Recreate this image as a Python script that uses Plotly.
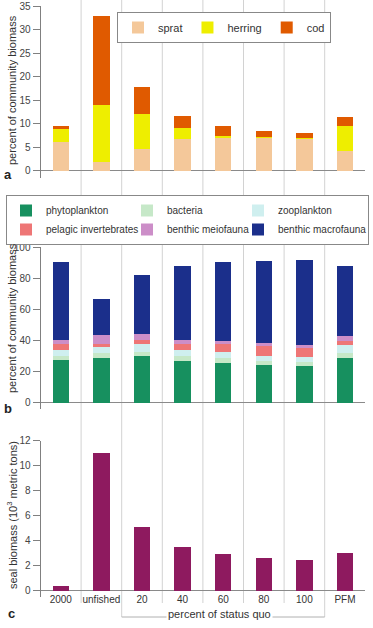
import plotly.graph_objects as go

W, H = 373, 628
categories = ["2000", "unfished", "20", "40", "60", "80", "100", "PFM"]

# Panel a: fish (% of community biomass), stacked segments
sprat   = [6.2, 2.0, 4.7, 6.8, 7.0, 7.1, 6.9, 4.3]
herring = [2.8, 12.0, 7.4, 2.4, 0.5, 0.1, 0.05, 5.3]
cod     = [0.5, 18.8, 5.8, 2.5, 2.0, 1.2, 1.0, 1.9]

# Panel b: other groups (% of community biomass)
phytoplankton = [27.5, 29.0, 30.1, 26.8, 25.8, 24.2, 23.5, 29.0]
bacteria      = [2.6, 3.3, 2.4, 3.3, 3.0, 2.5, 2.8, 3.3]
zooplankton   = [4.1, 3.6, 5.1, 4.1, 4.1, 3.6, 3.4, 4.9]
pelagic_inv   = [3.4, 1.7, 2.8, 3.4, 5.1, 6.2, 5.8, 2.3]
meiofauna     = [2.6, 5.8, 3.6, 2.8, 1.7, 1.7, 1.7, 3.4]
macrofauna    = [50.0, 23.5, 37.8, 47.4, 50.7, 52.8, 54.5, 44.9]

# Panel c: seal biomass (10^3 metric tons)
seal = [0.35, 11.05, 5.12, 3.48, 2.9, 2.64, 2.43, 3.04]

FONT = "Liberation Sans, Arial, sans-serif"
TXT = "#333333"
AX = "#808080"

def py(p):
    return 1 - p / H

def px(p):
    return p / W

fig = go.Figure()

for name, vals, col in [("sprat", sprat, "#F4C89A"),
                        ("herring", herring, "#EEEE00"),
                        ("cod", cod, "#E05A00")]:
    fig.add_trace(go.Bar(x=categories, y=vals, name=name, marker_color=col,
                         marker_line_width=0, width=0.4,
                         xaxis="x", yaxis="y", legend="legend"))

# legend columns (groups) and their widths
grp_w = {"g1": 76, "g2": 66, "g3": 85}
for name, vals, col, grp in [("phytoplankton", phytoplankton, "#17905F", "g1"),
                             ("bacteria", bacteria, "#C6E8C8", "g2"),
                             ("zooplankton", zooplankton, "#CFEFEF", "g3"),
                             ("pelagic invertebrates", pelagic_inv, "#EE7676", "g1"),
                             ("benthic meiofauna", meiofauna, "#CC8EC8", "g2"),
                             ("benthic macrofauna", macrofauna, "#1B2F8B", "g3")]:
    fig.add_trace(go.Bar(x=categories, y=vals, name=name, marker_color=col,
                         marker_line_width=0, width=0.4, legendgroup=grp,
                         legendwidth=grp_w[grp],
                         xaxis="x2", yaxis="y2", legend="legend2"))

fig.add_trace(go.Bar(x=categories, y=seal, name="seal", marker_color="#8E1A5F",
                     marker_line_width=0, width=0.4, showlegend=False,
                     xaxis="x3", yaxis="y3"))

xdom = [px(40.5), px(365.3)]
xcommon = dict(domain=xdom, range=[-0.5, 7.5], type="category",
               categoryorder="array", categoryarray=categories, automargin=False,
               showgrid=False, zeroline=False, showline=False, ticks="")
ycommon = dict(showgrid=False, showline=True, linecolor=AX, linewidth=1,
               ticks="outside", ticklen=7, tickcolor=AX, automargin=False,
               tickfont=dict(size=10, color="#444", family=FONT),
               zeroline=True, zerolinecolor="#8a8a8a", zerolinewidth=1)

fig.update_layout(
    width=W, height=H, margin=dict(l=0, r=0, t=0, b=0, autoexpand=False),
    paper_bgcolor="white", plot_bgcolor="rgba(0,0,0,0)",
    barmode="stack",
    font=dict(family=FONT, color=TXT, size=11),
    xaxis=dict(xcommon, anchor="y", showticklabels=False),
    xaxis2=dict(xcommon, anchor="y2", showticklabels=False),
    xaxis3=dict(xcommon, anchor="y3", showticklabels=True, ticklabelstandoff=-5,
                tickfont=dict(size=10, color="#333", family=FONT)),
    yaxis=dict(ycommon, domain=[py(178), py(6)], range=[-1.5, 35],
               tickvals=[0, 5, 10, 15, 20, 25, 30, 35], anchor="x"),
    yaxis2=dict(ycommon, domain=[py(409.2), py(247)], range=[-4, 100],
                tickvals=[0, 20, 40, 60, 80, 100], anchor="x2"),
    yaxis3=dict(ycommon, domain=[py(596.9), py(440.7)], range=[-0.5, 12],
                tickvals=[0, 2, 4, 6, 8, 10, 12], anchor="x3"),
    legend=dict(orientation="h", x=px(117), y=py(12), xanchor="left", yanchor="top",
                bgcolor="white", bordercolor="#888", borderwidth=1,
                traceorder="normal",
                font=dict(size=11, color=TXT, family=FONT)),
    legend2=dict(orientation="h", x=px(6), y=py(195), xanchor="left", yanchor="top",
                 bgcolor="white", bordercolor="#888", borderwidth=1,
                 traceorder="grouped",
                 font=dict(size=10, color=TXT, family=FONT)),
)

# vertical separators between categories
shapes = []
for b in [0.5, 1.5, 2.5, 3.5, 4.5, 5.5, 6.5]:
    bottom = 617 if b in (1.5, 6.5) else 603
    shapes.append(dict(type="line", xref="x3", yref="paper", x0=b, x1=b,
                       y0=py(bottom), y1=py(0), line=dict(color="#d2d2d2", width=1),
                       layer="below"))
shapes.append(dict(type="line", xref="x3", yref="paper", x0=1.5, x1=6.5,
                   y0=py(617), y1=py(617), line=dict(color="#b0b0b0", width=1),
                   layer="below"))
fig.update_layout(shapes=shapes)

ann = []
ann.append(dict(text="percent of status quo", xref="x3", yref="paper", x=3.9, y=py(614),
                xanchor="center", yanchor="middle",
                showarrow=False, bgcolor="white", font=dict(size=11, color=TXT)))
for txt, ycen in [("percent of community biomass", 90),
                  ("percent of community biomass", 318),
                  ("seal biomass (10<sup>3</sup> metric tons)", 515)]:
    ann.append(dict(text=txt, xref="paper", yref="paper", x=px(12), y=py(ycen),
                    xanchor="center", yanchor="middle",
                    textangle=-90, showarrow=False, font=dict(size=11, color=TXT)))
for lab, xc, ycen in [("a", 8, 174), ("b", 8, 408), ("c", 11, 613)]:
    ann.append(dict(text="<b>%s</b>" % lab, xref="paper", yref="paper", x=px(xc), y=py(ycen),
                    xanchor="center", yanchor="middle",
                    showarrow=False, font=dict(size=13, color="#222")))
fig.update_layout(annotations=ann)

fig.write_html("out.html", config={"displayModeBar": False},
               post_script="document.body.style.margin='0';document.body.style.overflow='hidden';")
